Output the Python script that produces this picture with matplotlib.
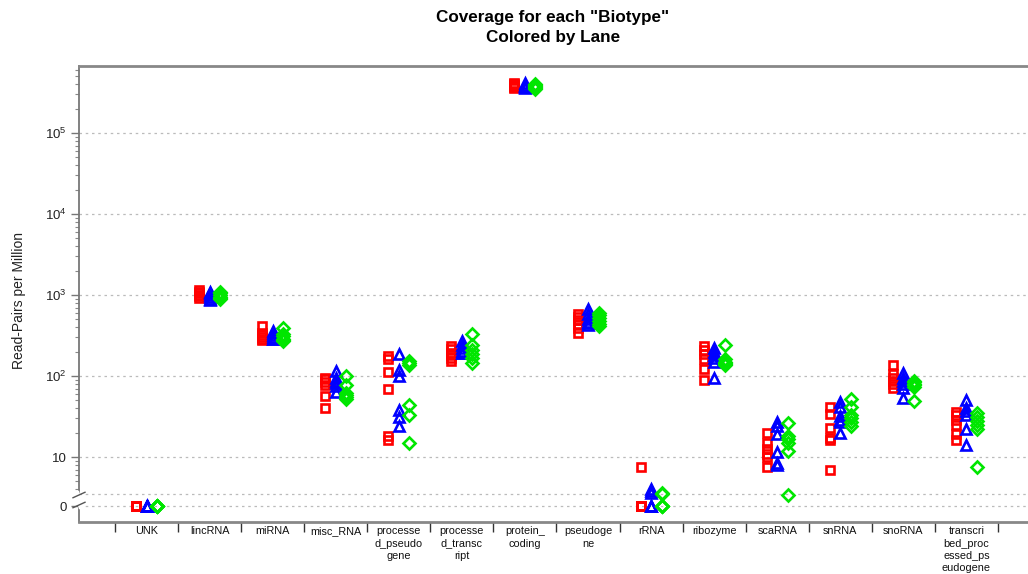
import numpy as np
import matplotlib
matplotlib.use("Agg")
import matplotlib.pyplot as plt
from matplotlib.ticker import FixedLocator, FixedFormatter, NullFormatter

plt.rcParams['font.family'] = ['Liberation Sans', 'DejaVu Sans']
plt.rcParams['mathtext.fontset'] = 'custom'
plt.rcParams['mathtext.rm'] = 'Liberation Sans'
plt.rcParams['mathtext.it'] = 'Liberation Sans:italic'

# ---------------- data ----------------
categories = ["UNK", "lincRNA", "miRNA", "misc_RNA", "processed_pseudogene",
              "processed_transcript", "protein_coding", "pseudogene", "rRNA",
              "ribozyme", "scaRNA", "snRNA", "snoRNA",
              "transcribed_processed_pseudogene"]

lane_red = [
    [0, 0, 0, 0, 0, 0],
    [1150, 1100, 1050, 1000, 960, 920],
    [410, 340, 320, 300, 290, 280],
    [95, 92, 85, 77, 56, 40],
    [175, 160, 112, 69, 18, 16],
    [235, 215, 195, 180, 165, 155],
    [420000, 400000, 390000, 380000, 370000, 360000],
    [590, 540, 490, 440, 390, 340],
    [7.5, 0, 0, 0, 0, 0],
    [235, 210, 185, 160, 122, 90],
    [20, 15, 12.5, 11, 10, 7.5],
    [42, 34, 23, 17, 16, 7],
    [135, 105, 95, 88, 80, 72],
    [36, 33, 29, 25, 19, 16],
]
lane_blue = [
    [0, 0, 0, 0, 0, 0],
    [1100, 1050, 1000, 950, 900, 870],
    [360, 340, 320, 300, 290, 285],
    [115, 95, 88, 82, 75, 63],
    [185, 120, 100, 38, 31, 24],
    [270, 240, 220, 205, 195, 190],
    [410000, 395000, 385000, 375000, 365000, 355000],
    [680, 580, 500, 470, 450, 430],
    [4.0, 3.8, 3.6, 0, 0, 0],
    [220, 200, 180, 165, 150, 95],
    [27, 24, 19, 11.5, 8.5, 8],
    [48, 42, 32, 29, 27, 20],
    [108, 95, 88, 80, 72, 53],
    [51, 40, 37, 33, 22, 14],
]
lane_green = [
    [0, 0, 0, 0, 0, 0],
    [1100, 1050, 1000, 950, 920, 900],
    [390, 330, 310, 290, 280, 270],
    [100, 78, 62, 58, 55, 52],
    [155, 145, 135, 44, 33, 15],
    [330, 240, 210, 185, 165, 145],
    [400000, 390000, 380000, 370000, 360000, 350000],
    [600, 560, 520, 480, 440, 420],
    [3.6, 3.5, 0, 0, 0, 0],
    [240, 160, 150, 145, 140, 135],
    [26, 18, 16.5, 15, 12, 3.4],
    [52, 41, 33, 30, 27, 24],
    [88, 84, 80, 77, 74, 49],
    [35, 31, 28, 25, 22, 7.5],
]
ytick_values = [0, 10, 100, 1000, 10000, 100000]
ytick_labels = ["0", "10", r"$\mathregular{10^2}$", r"$\mathregular{10^3}$",
                r"$\mathregular{10^4}$", r"$\mathregular{10^5}$"]
minor_values = ([m for m in range(4, 10)] +
                [m * 10 for m in range(2, 10)] +
                [m * 100 for m in range(2, 10)] +
                [m * 1000 for m in range(2, 10)] +
                [m * 10000 for m in range(2, 10)] +
                [m * 100000 for m in range(2, 7)])

# --------------- scale: log with a broken zero ---------------
VT = 10 ** 0.5
LT = 0.5
Z0 = 0.395


def fwd(v):
    v = np.asarray(v, dtype=float)
    safe = np.where(v > VT, v, VT)
    return np.where(v >= VT, np.log10(safe), Z0 + (LT - Z0) * v / VT)


def inv(y):
    y = np.asarray(y, dtype=float)
    safe = np.where(y >= LT, y, LT)
    return np.where(y >= LT, 10 ** safe, (y - Z0) * VT / (LT - Z0))


W, H = 1028, 574
fig = plt.figure(figsize=(W / 100, H / 100), dpi=100)
ax = fig.add_axes([79 / W, (H - 522) / H, (W - 79) / W, 456 / H])
ax.set_yscale('function', functions=(fwd, inv))

x = np.arange(len(categories))
styles = [
    (lane_red, -1 / 6, dict(marker='s', markersize=5.8, mec='#ff0000')),
    (lane_blue, 0.0, dict(marker='^', markersize=7.2, mec='#0000ff')),
    (lane_green, 1 / 6, dict(marker='D', markersize=5.8, mec='#00e600')),
]
for vals, off, st in styles:
    for i, v in enumerate(vals):
        ax.plot(np.full(len(v), x[i] + off), v, linestyle='none',
                mfc='none', mew=1.9, zorder=3, **st)

ax.set_xlim(-1.071, 13.976)
ax.set_ylim(float(inv(0.198)), 10 ** 5.827)

# y ticks
ax.yaxis.set_major_locator(FixedLocator(ytick_values))
ax.yaxis.set_major_formatter(FixedFormatter(ytick_labels))
ax.yaxis.set_minor_locator(FixedLocator(minor_values))
ax.yaxis.set_minor_formatter(NullFormatter())
ax.tick_params(axis='y', which='major', length=6, width=1.0, color='#777777',
               labelsize=9.5, labelcolor='#222222', pad=3)
ax.tick_params(axis='y', which='minor', length=3, width=0.8, color='#888888')

# grid
for yv in ytick_values + [3.5]:
    ax.axhline(yv, color='#bbbbbb', linestyle=(0, (2, 3)), linewidth=0.9, zorder=1)

# x ticks: boundaries as marks, labels at centers
ax.xaxis.set_major_locator(FixedLocator(np.arange(len(categories) + 1) - 0.5))
ax.xaxis.set_major_formatter(NullFormatter())
ax.xaxis.set_minor_locator(FixedLocator(x))
wrapped = ["\n".join(c[i:i + 8] for i in range(0, len(c), 8)) for c in categories]
ax.xaxis.set_minor_formatter(FixedFormatter(wrapped))
ax.tick_params(axis='x', which='major', length=7, width=1.0, color='#333333')
ax.tick_params(axis='x', which='minor', length=0, labelsize=7.8,
               labelcolor='#111111', pad=3)
for lab in ax.xaxis.get_minorticklabels():
    lab.set_linespacing(1.3)

# spines
for s in ['top', 'bottom']:
    ax.spines[s].set_color('#888888')
    ax.spines[s].set_linewidth(2.0)
ax.spines['left'].set_color('#777777')
ax.spines['left'].set_linewidth(1.3)
ax.spines['right'].set_visible(False)
ax.spines['left'].set_bounds(float(inv(0.198)), 10 ** 5.827)

# axis break mark
yb1 = (522 - 495) / 456
yb2 = (522 - 505) / 456
dx = 6 / 949
ax.plot([-0.002, 0.002], [yb1 + 0.002, yb2 - 0.002], transform=ax.transAxes,
        color='white', linewidth=4, clip_on=False, zorder=5)
ax.plot([-dx, dx], [yb1 - 0.006, yb1 + 0.006], transform=ax.transAxes,
        color='#555555', linewidth=1.0, clip_on=False, zorder=6)
ax.plot([-dx, dx], [yb2 - 0.006, yb2 + 0.006], transform=ax.transAxes,
        color='#555555', linewidth=1.0, clip_on=False, zorder=6)

ax.set_ylabel("Read-Pairs per Million", fontsize=10, color='#222222')
ax.yaxis.set_label_coords(-0.056, 0.486)

fig.text(553 / W, 1 - 10 / H, 'Coverage for each "Biotype"\nColored by Lane',
         ha='center', va='top', fontsize=12.3, fontweight='bold',
         linespacing=1.45)

fig.savefig("out.png", dpi=100)
